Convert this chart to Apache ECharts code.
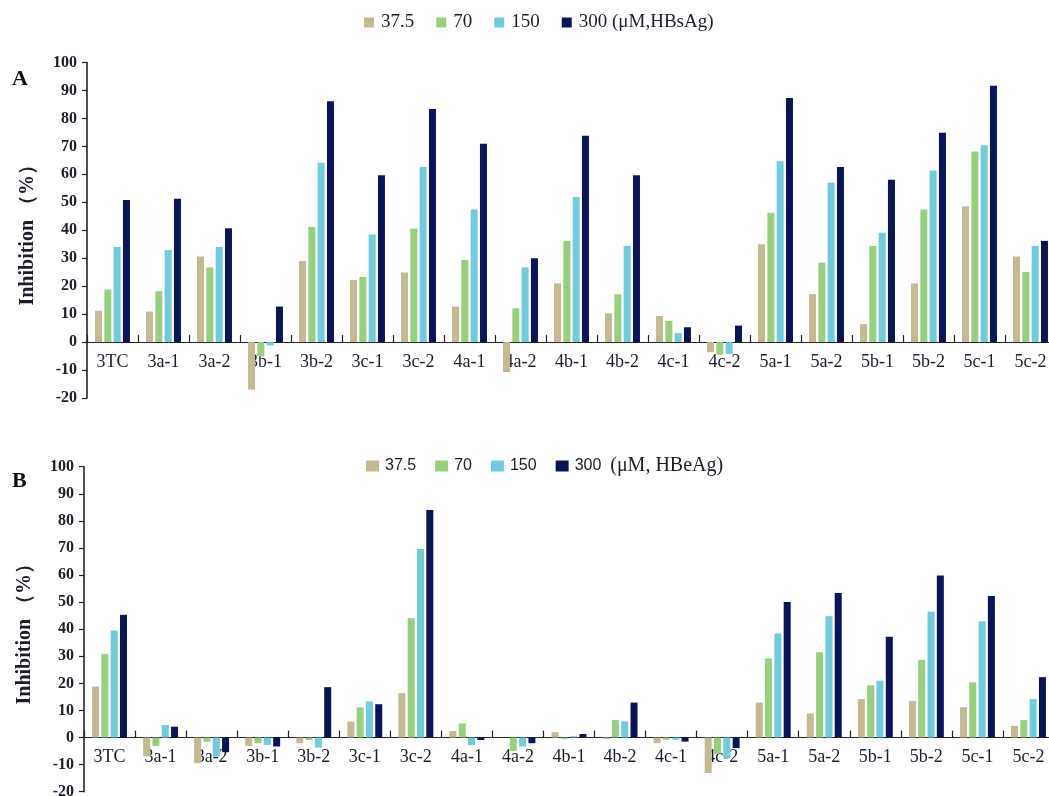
<!DOCTYPE html>
<html>
<head>
<meta charset="utf-8">
<script src="https://cdn.jsdelivr.net/npm/echarts@6/dist/echarts.min.js"></script>
<style>
  html, body { margin: 0; padding: 0; background: #ffffff; }
  #chart { width: 1049px; height: 796px; }
</style>
</head>
<body>
<div id="chart"></div>
<script>
// Compounds tested
const categories = ['3TC', '3a-1', '3a-2', '3b-1', '3b-2', '3c-1', '3c-2', '4a-1', '4a-2', '4b-1',
  '4b-2', '4c-1', '4c-2', '5a-1', '5a-2', '5b-1', '5b-2', '5c-1', '5c-2'];

// Concentrations (µM)
const doses = ['37.5', '70', '150', '300'];

// Y-axis ticks
const yTicks = { min: -20, max: 100, step: 10 };

// Panel A: HBsAg inhibition (%)
const hbsag_37_5 = [11.2, 10.9, 30.6, -17.0, 29.0, 22.2, 24.9, 12.7, -10.7, 21.0, 10.3, 9.3, -3.6, 35.0, 17.1, 6.4, 21.0, 48.5, 30.6];
const hbsag_70 = [18.8, 18.2, 26.7, -5.1, 41.2, 23.3, 40.6, 29.4, 12.1, 36.2, 17.1, 7.6, -4.5, 46.3, 28.4, 34.4, 47.4, 68.2, 25.1];
const hbsag_150 = [34.0, 32.9, 34.0, -1.2, 64.1, 38.5, 62.6, 47.4, 26.7, 51.9, 34.4, 3.2, -4.2, 64.7, 57.0, 39.1, 61.4, 70.4, 34.4];
const hbsag_300 = [50.8, 51.3, 40.7, 12.7, 86.1, 59.7, 83.4, 70.9, 30.0, 73.8, 59.7, 5.3, 5.9, 87.3, 62.6, 58.1, 74.9, 91.7, 36.2];

// Panel B: HBeAg inhibition (%)
const hbeag_37_5 = [18.8, -7.0, -9.5, -3.1, -2.1, 5.9, 16.4, 2.4, 0, 2.0, -0.5, -2.1, -13.1, 12.9, 8.9, 14.2, 13.5, 11.2, 4.3];
const hbeag_70 = [30.9, -3.1, -1.5, -2.1, -0.9, 11.1, 44.1, 5.2, -4.9, -0.6, 6.5, -0.8, -5.9, 29.2, 31.5, 19.3, 28.7, 20.4, 6.5];
const hbeag_150 = [39.5, 4.6, -7.0, -2.7, -3.7, 13.3, 69.6, -2.8, -3.3, 0.5, 5.9, -0.8, -7.6, 38.4, 44.8, 21.0, 46.5, 42.9, 14.2];
const hbeag_300 = [45.3, 4.0, -5.4, -3.3, 18.6, 12.3, 84.0, -0.9, -2.1, 1.3, 12.9, -1.5, -3.9, 50.0, 53.4, 37.2, 59.8, 52.3, 22.3];

const colors = ['#c4b991', '#96d07d', '#6eccde', '#0a145a'];
const SERIF = '"Liberation Serif", "Times New Roman", serif';
const SANS = '"Liberation Sans", Arial, sans-serif';
const AXIS_COLOR = '#222222';
const TEXT_COLOR = '#1c1c2a';

const panels = [
  { grid: { left: 87, top: 62.5, width: 969, height: 335.5, outerBoundsMode: 'none' },
    data: [hbsag_37_5, hbsag_70, hbsag_150, hbsag_300] },
  { grid: { left: 84, top: 466.7, width: 970, height: 325, outerBoundsMode: 'none' },
    data: [hbeag_37_5, hbeag_70, hbeag_150, hbeag_300] }
];

// The category axis sits on the zero line: lift it from the grid bottom
// by the height that the negative part of the value range takes.
function zeroLift(grid) {
  return -grid.height * (0 - yTicks.min) / (yTicks.max - yTicks.min);
}

const chart = echarts.init(document.getElementById('chart'), null, { renderer: 'canvas' });

const xAxes = panels.map((p, i) => ({
  type: 'category',
  gridIndex: i,
  position: 'bottom',
  offset: zeroLift(p.grid),
  data: categories,
  axisLine: { onZero: false, lineStyle: { color: AXIS_COLOR, width: 1.2 } },
  axisTick: { show: true, inside: true, length: 7, interval: 0, alignWithLabel: false,
    lineStyle: { color: AXIS_COLOR, width: 1.2 } },
  axisLabel: { interval: 0, margin: 11, fontFamily: SERIF, fontSize: 18, color: TEXT_COLOR },
  splitLine: { show: false }
}));

const yAxes = panels.map((p, i) => ({
  type: 'value',
  gridIndex: i,
  min: yTicks.min,
  max: yTicks.max,
  interval: yTicks.step,
  name: 'Inhibition （%）',
  nameLocation: 'middle',
  nameRotate: 90,
  nameGap: 49,
  nameTextStyle: { fontFamily: SERIF, fontWeight: 'bold', fontSize: 20, color: TEXT_COLOR },
  axisLine: { show: true, lineStyle: { color: AXIS_COLOR, width: 1.6 } },
  axisTick: { show: true, inside: false, length: 5, lineStyle: { color: AXIS_COLOR, width: 1.2 } },
  axisLabel: { margin: 10, fontFamily: SERIF, fontWeight: 'bold', fontSize: 16, color: TEXT_COLOR },
  splitLine: { show: false }
}));

const series = [];
panels.forEach((p, i) => {
  doses.forEach((d, k) => {
    series.push({
      name: d,
      type: 'bar',
      xAxisIndex: i,
      yAxisIndex: i,
      data: p.data[k],
      barWidth: 7,
      barGap: '33%',
      itemStyle: { color: colors[k] },
      emphasis: { disabled: true }
    });
  });
});

const option = {
  backgroundColor: '#ffffff',
  animation: false,
  color: colors,
  grid: panels.map(p => p.grid),
  xAxis: xAxes,
  yAxis: yAxes,
  legend: [
    {
      left: 359, top: 8,
      icon: 'rect', itemWidth: 10, itemHeight: 10, itemGap: 22,
      data: doses,
      selectedMode: false,
      formatter: n => n === '300' ? '{t|300 (μM,HBsAg)}' : '{t|' + n + '}',
      textStyle: { fontFamily: SERIF, fontSize: 19, color: TEXT_COLOR,
        rich: { t: { fontFamily: SERIF, fontSize: 19, color: TEXT_COLOR, padding: [0, 0, 0, 2] } } }
    },
    {
      left: 361, top: 451,
      icon: 'rect', itemWidth: 13, itemHeight: 11, itemGap: 19,
      data: doses,
      selectedMode: false,
      formatter: n => n === '300' ? '{n|300}  {s|(μM, HBeAg)}' : '{n|' + n + '}',
      textStyle: { fontFamily: SANS, fontSize: 16, color: TEXT_COLOR,
        rich: {
          n: { fontFamily: SANS, fontSize: 16, color: TEXT_COLOR, padding: [0, 0, 0, 1] },
          s: { fontFamily: SERIF, fontSize: 20, color: TEXT_COLOR }
        } }
    }
  ],
  graphic: [
    { type: 'text', left: 12, top: 68,
      style: { text: 'A', fontFamily: SERIF, fontWeight: 'bold', fontSize: 22, fill: '#111111' } },
    { type: 'text', left: 12, top: 470,
      style: { text: 'B', fontFamily: SERIF, fontWeight: 'bold', fontSize: 22, fill: '#111111' } }
  ],
  series: series
};

chart.setOption(option);
</script>
</body>
</html>
